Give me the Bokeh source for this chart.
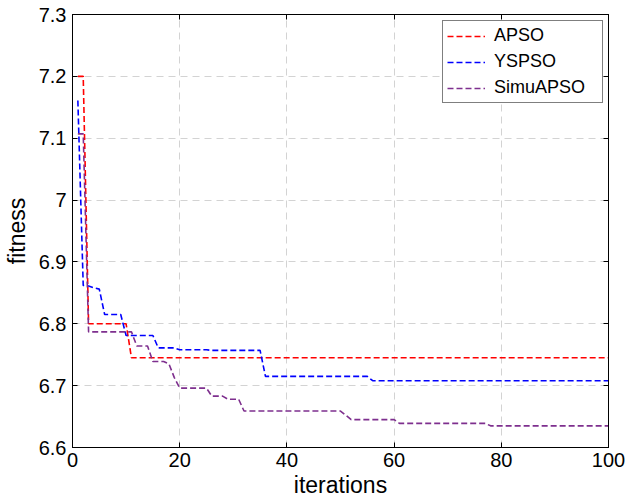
from bokeh.plotting import figure
from bokeh.models import (LinearAxis, FixedTicker, PrintfTickFormatter, Legend,
                          LegendItem, Range1d)
from bokeh.embed import file_html
from bokeh.resources import INLINE

# ---------------- data ----------------
iterations = list(range(1, 101))

apso = [
    7.2, 7.2, 6.8, 6.8, 6.8, 6.8, 6.8, 6.8, 6.8, 6.8,
    6.745, 6.745, 6.745, 6.745, 6.745, 6.745, 6.745, 6.745, 6.745, 6.745,
    6.745, 6.745, 6.745, 6.745, 6.745, 6.745, 6.745, 6.745, 6.745, 6.745,
    6.745, 6.745, 6.745, 6.745, 6.745, 6.745, 6.745, 6.745, 6.745, 6.745,
    6.745, 6.745, 6.745, 6.745, 6.745, 6.745, 6.745, 6.745, 6.745, 6.745,
    6.745, 6.745, 6.745, 6.745, 6.745, 6.745, 6.745, 6.745, 6.745, 6.745,
    6.745, 6.745, 6.745, 6.745, 6.745, 6.745, 6.745, 6.745, 6.745, 6.745,
    6.745, 6.745, 6.745, 6.745, 6.745, 6.745, 6.745, 6.745, 6.745, 6.745,
    6.745, 6.745, 6.745, 6.745, 6.745, 6.745, 6.745, 6.745, 6.745, 6.745,
    6.745, 6.745, 6.745, 6.745, 6.745, 6.745, 6.745, 6.745, 6.745, 6.745,
]

yspso = [
    7.161, 6.862, 6.861, 6.858, 6.856, 6.815, 6.815, 6.815, 6.815, 6.781,
    6.781, 6.781, 6.781, 6.781, 6.781, 6.761, 6.761, 6.761, 6.761, 6.758,
    6.758, 6.758, 6.758, 6.758, 6.758, 6.757, 6.757, 6.757, 6.757, 6.757,
    6.757, 6.757, 6.757, 6.757, 6.757, 6.715, 6.715, 6.715, 6.715, 6.715,
    6.715, 6.715, 6.715, 6.715, 6.715, 6.715, 6.715, 6.715, 6.715, 6.715,
    6.715, 6.715, 6.715, 6.715, 6.715, 6.708, 6.708, 6.708, 6.708, 6.708,
    6.708, 6.708, 6.708, 6.708, 6.708, 6.708, 6.708, 6.708, 6.708, 6.708,
    6.708, 6.708, 6.708, 6.708, 6.708, 6.708, 6.708, 6.708, 6.708, 6.708,
    6.708, 6.708, 6.708, 6.708, 6.708, 6.708, 6.708, 6.708, 6.708, 6.708,
    6.708, 6.708, 6.708, 6.708, 6.708, 6.708, 6.708, 6.708, 6.708, 6.708,
]

simuapso = [
    7.107, 7.107, 6.787, 6.787, 6.787, 6.787, 6.787, 6.787, 6.787, 6.787,
    6.787, 6.764, 6.764, 6.764, 6.739, 6.739, 6.739, 6.735, 6.713, 6.696,
    6.696, 6.696, 6.696, 6.696, 6.696, 6.683, 6.683, 6.683, 6.678, 6.678,
    6.678, 6.659, 6.659, 6.659, 6.659, 6.659, 6.659, 6.659, 6.659, 6.659,
    6.659, 6.659, 6.659, 6.659, 6.659, 6.659, 6.659, 6.659, 6.659, 6.659,
    6.652, 6.645, 6.645, 6.645, 6.645, 6.645, 6.645, 6.645, 6.645, 6.645,
    6.639, 6.639, 6.639, 6.639, 6.639, 6.639, 6.639, 6.639, 6.639, 6.639,
    6.639, 6.639, 6.639, 6.639, 6.639, 6.639, 6.639, 6.635, 6.635, 6.635,
    6.635, 6.635, 6.635, 6.635, 6.635, 6.635, 6.635, 6.635, 6.635, 6.635,
    6.635, 6.635, 6.635, 6.635, 6.635, 6.635, 6.635, 6.635, 6.635, 6.635,
]

series_names = ["APSO", "YSPSO", "SimuAPSO"]
series_colors = ["#ff0000", "#0000ff", "#7e2f8e"]

x_ticks = [0, 20, 40, 60, 80, 100]
y_ticks = [6.6, 6.7, 6.8, 6.9, 7.0, 7.1, 7.2, 7.3]

FONT = "Liberation Sans"

# ---------------- figure ----------------
p = figure(width=625, height=500, output_backend="svg", toolbar_location=None,
           x_range=Range1d(0, 100), y_range=Range1d(6.6, 7.3),
           min_border_left=72, min_border_right=17, min_border_top=14,
           min_border_bottom=52)
p.background_fill_color = "white"
p.border_fill_color = "white"
p.outline_line_color = "black"
p.outline_line_width = 1

# grid
for g in (p.xgrid, p.ygrid):
    g.grid_line_color = "#d3d3d3"
    g.grid_line_dash = "7 5"
    g.grid_line_width = 1
p.xgrid.ticker = FixedTicker(ticks=x_ticks)
p.ygrid.ticker = FixedTicker(ticks=y_ticks)

# main axes
for ax in (p.xaxis[0], p.yaxis[0]):
    ax.axis_line_color = "black"
    ax.axis_line_width = 1
    ax.major_tick_in = 5
    ax.major_tick_out = 0
    ax.major_tick_line_color = "black"
    ax.minor_tick_line_color = None
    ax.major_label_text_font = FONT
    ax.major_label_text_font_size = "20px"
    ax.major_label_text_color = "black"
    ax.axis_label_text_font = FONT
    ax.axis_label_text_font_size = "23px"
    ax.axis_label_text_font_style = "normal"
    ax.axis_label_text_color = "black"

p.xaxis[0].ticker = FixedTicker(ticks=x_ticks)
p.yaxis[0].ticker = FixedTicker(ticks=y_ticks)
p.yaxis[0].formatter = PrintfTickFormatter(format="%g")
p.xaxis[0].axis_label = "iterations"
p.yaxis[0].axis_label = "fitness"
p.xaxis[0].major_label_standoff = 5
p.xaxis[0].axis_label_standoff = 2
p.yaxis[0].major_label_standoff = 6
p.yaxis[0].axis_label_standoff = 6

# mirrored axes (top / right) with inward ticks, labels not drawn
top_ax = LinearAxis(ticker=FixedTicker(ticks=x_ticks), major_label_text_font_size="0px",
                    major_label_text_color=None,
                    major_tick_in=5, major_tick_out=0, minor_tick_line_color=None,
                    major_label_standoff=0, axis_line_color="black")
right_ax = LinearAxis(ticker=FixedTicker(ticks=y_ticks), major_label_text_font_size="0px",
                      major_label_text_color=None,
                      major_tick_in=5, major_tick_out=0, minor_tick_line_color=None,
                      major_label_standoff=0, axis_line_color="black")
p.add_layout(top_ax, "above")
p.add_layout(right_ax, "right")

# series
items = []
for name, ys, col in zip(series_names, [apso, yspso, simuapso], series_colors):
    r = p.line(iterations, ys, line_color=col, line_width=1.6, line_dash="6 3")
    items.append(LegendItem(label=name, renderers=[r]))

legend = Legend(items=items, location=(370, 344),
                border_line_color="black", border_line_width=1,
                background_fill_color="white", background_fill_alpha=1,
                label_text_font=FONT, label_text_font_size="18px",
                label_text_color="black",
                glyph_width=38, glyph_height=20, label_standoff=9,
                label_width=104, label_height=21, spacing=5, padding=4, margin=0)
p.add_layout(legend)

open("out.html", "w").write(file_html(p, INLINE))
